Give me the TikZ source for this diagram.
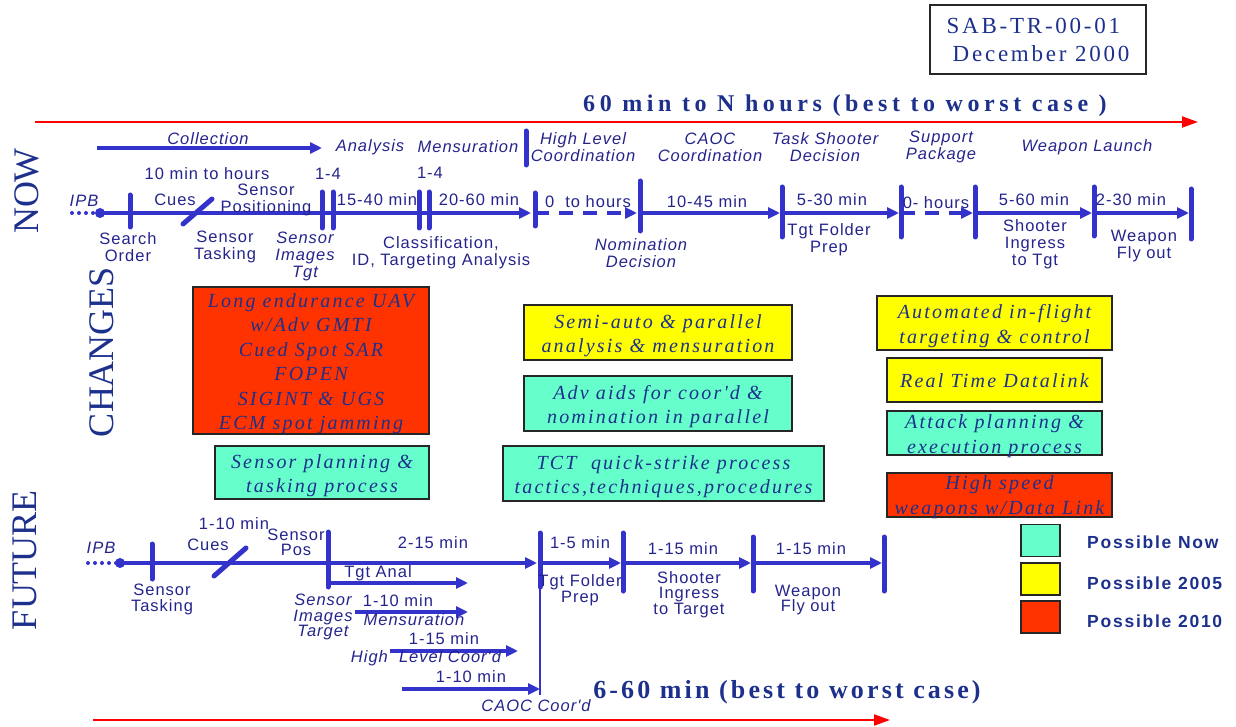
\documentclass[tikz,border=0pt]{standalone}
\usepackage{fontspec}
\setmainfont{Liberation Serif}
\usetikzlibrary{arrows.meta}
\newfontfamily\lblfont[LetterSpace=6]{Liberation Sans}
\newfontfamily\boxfont[LetterSpace=11]{Liberation Serif}
\newfontfamily\headfont[LetterSpace=19]{Liberation Serif}
\newfontfamily\reffont[LetterSpace=12]{Liberation Serif}
\newfontfamily\keyfont[LetterSpace=10]{Liberation Sans}
\definecolor{lineblue}{RGB}{51,51,204}
\definecolor{navy}{RGB}{28,48,140}
\definecolor{labblue}{RGB}{36,36,140}
\definecolor{nowgreen}{RGB}{102,255,204}
\definecolor{yel}{RGB}{255,255,0}
\definecolor{redorange}{RGB}{255,51,0}
\definecolor{timered}{RGB}{255,0,0}
\begin{document}
\begin{tikzpicture}[x=1pt,y=-1pt,
  lbl/.style={font={\lblfont\fontsize{16.5}{17}\selectfont}, text=labblue, align=center, inner sep=0pt},
  lbli/.style={font={\lblfont\fontsize{16.5}{17}\selectfont\itshape}, text=labblue, align=center, inner sep=0pt},
  flbl/.style={font={\lblfont\fontsize{16.5}{15.5}\selectfont}, text=labblue, align=center, inner sep=0pt},
  flbli/.style={font={\lblfont\fontsize{16.5}{15.5}\selectfont\itshape}, text=labblue, align=center, inner sep=0pt},
  tick/.style={draw=lineblue, line width=5pt, line cap=round},
  seg/.style={draw=lineblue, line width=4pt, -{Triangle[length=12pt,width=11pt]}},
  dseg/.style={seg, dash pattern=on 14pt off 10pt},
  slash/.style={draw=lineblue, line width=5pt, line cap=round},
  ipbdots/.style={draw=lineblue, line width=4pt, line cap=round, dash pattern=on 0pt off 7pt},
  timeaxis/.style={draw=timered, line width=2pt, -{Triangle[length=16pt,width=11pt]}},
  chgbox/.style={draw=black!85, line width=1.3pt, inner sep=0pt},
  chgtext/.style={inner sep=0pt, text=navy, align=center,
    font={\boxfont\fontsize{20}{24.5}\selectfont\itshape}},
  phase/.style={font={\fontsize{36}{36}\selectfont}, text=navy, rotate=90, inner sep=0pt},
  keybox/.style={draw=black!85, line width=1.3pt, minimum width=39pt, minimum height=32pt, inner sep=0pt},
  keytext/.style={font={\keyfont\bfseries\fontsize{17.5}{18}\selectfont}, text=navy, anchor=west, inner sep=0pt},
  headline/.style={font={\headfont\bfseries\fontsize{24}{25}\selectfont}, text=navy, inner sep=0pt}
]
\useasboundingbox (0,0) rectangle (1236,727);

% ---------- report reference ----------
\node[draw=black!85, line width=1.2pt, minimum width=216pt, minimum height=69pt, inner sep=0pt,
      align=left, text=navy, font={\reffont\fontsize{23}{28}\selectfont}] (ref) at (1038,39.5)
  {SAB-TR-00-01\\\hspace{6pt}December 2000};

% ---------- time axes ----------
\node[headline] (toptitle) at (845,106) {60 min to N hours (best to worst case )};
\coordinate (tas) at (35,122);
\coordinate (tae) at (1198,122);
\draw[timeaxis] (tas) -- (tae);

\node[headline, font={\reffont\bfseries\fontsize{26}{28}\selectfont}] (bottitle) at (787,692) {6-60 min (best to worst case)};
\coordinate (bas) at (93,720);
\coordinate (bae) at (890,720);
\draw[timeaxis] (bas) -- (bae);

% ---------- row titles ----------
\node[phase] (now) at (27,191) {NOW};
\node[phase] (changes) at (102,352) {CHANGES};
\node[phase] (future) at (25,560) {FUTURE};

% ---------- NOW: phase headings ----------
\coordinate (cols) at (97,148);
\coordinate (cole) at (322,148);
\draw[seg] (cols) -- (cole);
\node[lbli] (collection) at (208,139) {Collection};
\node[lbli] (analysis) at (370,147) {Analysis};
\node[lbli] (mensuration) at (468,147) {Mensuration};
\coordinate (hsa) at (526,131);
\coordinate (hsb) at (526,165);
\draw[tick] (hsa) -- (hsb);
\node[lbli] (hlc) at (583,147) {High Level\\Coordination};
\node[lbli] (caoc) at (710,147) {CAOC\\Coordination};
\node[lbli] (tsd) at (825,147) {Task Shooter\\Decision};
\node[lbli] (spk) at (941,147) {Support\\Package};
\node[lbli] (wl) at (1087,147) {Weapon Launch};

% ---------- NOW: timeline ----------
\coordinate (ipbs) at (72,213);
\coordinate (ipb) at (100,213);
\draw[ipbdots] (ipbs) -- (ipb);
\fill[lineblue] (ipb) circle (5pt);
\node[lbli] (ipbt) at (84,201) {IPB};

\coordinate (n535) at (535,213);
\coordinate (n640) at (640,213);
\coordinate (n782) at (782,213);
\coordinate (n901) at (901,213);
\coordinate (n975) at (975,213);
\coordinate (n1094) at (1094,213);
\coordinate (n1191) at (1191,213);

\draw[seg, shorten >=4pt] (ipb) -- (n535);
\draw[dseg, shorten >=3pt] (n535) -- (n640);
\draw[seg, shorten >=2pt] (n640) -- (n782);
\draw[seg, shorten >=2pt] (n782) -- (n901);
\draw[dseg, shorten >=2pt] (n901) -- (n975);
\draw[seg, shorten >=2pt] (n975) -- (n1094);
\draw[seg, shorten >=2pt] (n1094) -- (n1191);

\draw[tick] (130,195) -- (130,227);
\draw[slash] (183,224) -- (212,199);
\draw[tick] (322,192) -- (322,228);
\draw[tick] (333,192) -- (333,228);
\draw[tick] (419,192) -- (419,228);
\draw[tick] (429,192) -- (429,228);
\draw[tick] (535,193) -- (535,226);
\draw[tick] (640,181) -- (640,231);
\draw[tick] (782,187) -- (782,237);
\draw[tick] (901,187) -- (901,237);
\draw[tick] (975,187) -- (975,237);
\draw[tick] (1094,187) -- (1094,236);
\draw[tick] (1191,189) -- (1191,239);

% durations
\node[lbl] (d1) at (207,174) {10 min to hours};
\node[lbl] (cues) at (175,200) {Cues};
\node[lbl] (spos) at (266,200) {Sensor\\Positioning};
\node[lbl] (d14a) at (328,174) {1-4};
\node[lbl] (d14b) at (430,173) {1-4};
\node[lbl] (d2) at (377,200) {15-40 min};
\node[lbl] (d3) at (479,200) {20-60 min};
\node[lbl] (d4) at (588,202) {0\ \ to hours};
\node[lbl] (d5) at (707,202) {10-45 min};
\node[lbl] (d6) at (832,200) {5-30 min};
\node[lbl] (d7) at (936,203) {0- hours};
\node[lbl] (d8) at (1034,200) {5-60 min};
\node[lbl] (d9) at (1131,200) {2-30 min};

% events
\node[lbl] (so) at (128,247) {Search\\Order};
\node[lbl] (st) at (225,247) {Sensor\\Tasking};
\node[lbli] (sit) at (305,256) {Sensor\\Images\\Tgt};
\node[lbl] (cls) at (441,253) {Classification,\\ID, Targeting Analysis};
\node[lbli] (nom) at (641,253) {Nomination\\Decision};
\node[lbl] (tfp) at (829,240) {Tgt Folder\\Prep};
\node[lbl] (sit2) at (1035,244) {Shooter\\Ingress\\to Tgt};
\node[lbl] (wfo) at (1144,246) {Weapon\\Fly out};

% ---------- CHANGES ----------
\node[chgbox, fill=redorange, minimum width=236pt, minimum height=147pt] (uav) at (311,360.5) {};
\node[chgtext] (uavt) at ([yshift=-3pt]uav.center)
  {Long endurance UAV\\w/Adv GMTI\\Cued Spot SAR\\FOPEN\\SIGINT \& UGS\\ECM spot jamming};
\node[chgbox, fill=nowgreen, minimum width=214pt, minimum height=53pt] (spt) at (322,472.5) {};
\node[chgtext] (sptt) at ([yshift=-3pt]spt.center) {Sensor planning \&\\tasking process};
\node[chgbox, fill=yel, minimum width=268pt, minimum height=55pt] (semi) at (658,332.5) {};
\node[chgtext] (semit) at ([yshift=-3pt]semi.center) {Semi-auto \& parallel\\analysis \& mensuration};
\node[chgbox, fill=nowgreen, minimum width=268pt, minimum height=55pt] (adv) at (658,403.5) {};
\node[chgtext] (advt) at ([yshift=-3pt]adv.center) {Adv aids for coor'd \&\\nomination in parallel};
\node[chgbox, fill=nowgreen, minimum width=321pt, minimum height=55pt] (tct) at (663.5,473.5) {};
\node[chgtext] (tctt) at ([yshift=-3pt]tct.center) {TCT\ \ quick-strike process\\tactics,techniques,procedures};
\node[chgbox, fill=yel, minimum width=235pt, minimum height=54pt] (auto) at (994.5,323) {};
\node[chgtext] (autot) at ([yshift=-3pt]auto.center) {Automated in-flight\\targeting \& control};
\node[chgbox, fill=yel, minimum width=215pt, minimum height=44pt] (rtd) at (994.5,380) {};
\node[chgtext] (rtdt) at ([yshift=-1pt]rtd.center) {Real Time Datalink};
\node[chgbox, fill=nowgreen, minimum width=215pt, minimum height=44pt] (atk) at (994.5,433) {};
\node[chgtext] (atkt) at ([yshift=-3pt]atk.center) {Attack planning \&\\execution process};
\node[chgbox, fill=redorange, minimum width=225pt, minimum height=44pt] (hsw) at (999.5,495) {};
\node[chgtext] (hswt) at ([yshift=-2pt]hsw.center) {High speed\\weapons w/Data Link};

% ---------- key ----------
\node[keybox, fill=nowgreen] (k1) at (1040.5,540.5) {};
\node[keybox, fill=yel] (k2) at (1040.5,579) {};
\node[keybox, fill=redorange] (k3) at (1040.5,617) {};
\node[keytext] (k1t) at (1087,542) {Possible Now};
\node[keytext] (k2t) at (1087,583) {Possible 2005};
\node[keytext] (k3t) at (1087,621) {Possible 2010};

% ---------- FUTURE: timeline ----------
\coordinate (fipbs) at (88,563);
\coordinate (fipb) at (120,563);
\draw[ipbdots] (fipbs) -- (fipb);
\fill[lineblue] (fipb) circle (5pt);
\node[lbli] (fipbt) at (101,548) {IPB};

\coordinate (f540) at (540,563);
\coordinate (f623) at (623,563);
\coordinate (f753) at (753,563);
\coordinate (f884) at (884,563);

\draw[seg, shorten >=3pt] (fipb) -- (f540);
\draw[seg, shorten >=2pt] (f540) -- (f623);
\draw[seg, shorten >=2pt] (f623) -- (f753);
\draw[seg, shorten >=2pt] (f753) -- (f884);

% parallel tasks
\coordinate (ta1) at (328,583);  \coordinate (ta2) at (468,583);
\coordinate (me1) at (355,612);  \coordinate (me2) at (468,612);
\coordinate (hl1) at (390,651);  \coordinate (hl2) at (518,651);
\coordinate (co1) at (402,689);  \coordinate (co2) at (540,689);
\draw[seg] (ta1) -- (ta2);
\draw[seg] (me1) -- (me2);
\draw[seg] (hl1) -- (hl2);
\draw[seg] (co1) -- (co2);
\coordinate (vl1) at (540,580);
\coordinate (vl2) at (540,695);
\draw[draw=lineblue, line width=1.5pt] (vl1) -- (vl2);

\draw[tick] (152,544) -- (152,579);
\draw[slash] (214,576) -- (246,548);
\draw[tick] (328,532) -- (328,587);
\draw[tick] (540,533) -- (540,587);
\draw[tick] (623,533) -- (623,591);
\draw[tick] (753,537) -- (753,591);
\draw[tick] (884,537) -- (884,591);

\node[flbl] (fd1) at (234,524) {1-10 min};
\node[flbl] (fcues) at (208,545) {Cues};
\node[flbl] (fsp) at (296,542.5) {Sensor\\Pos};
\node[flbl] (fd2) at (433,543) {2-15 min};
\node[flbl] (fst) at (162,599.5) {Sensor\\Tasking};
\node[flbl] (fta) at (378,573) {Tgt Anal};
\node[flbli] (fsit) at (323,617) {Sensor\\Images\\Target};
\node[flbl] (fd3) at (398,601) {1-10 min};
\node[flbli] (fmen) at (414,620) {Mensuration};
\node[flbl] (fd4) at (444,639) {1-15 min};
\node[flbli] (fhl) at (426,658) {High\ \ Level Coor'd};
\node[flbl] (fd5) at (471,677) {1-10 min};
\node[flbli] (fcaoc) at (536,706) {CAOC Coor'd};
\node[flbl] (fd6) at (580,543) {1-5 min};
\node[flbl] (ftfp) at (580,590) {Tgt Folder\\Prep};
\node[flbl] (fd7) at (683,549) {1-15 min};
\node[flbl] (fsi) at (689,594.5) {Shooter\\Ingress\\to Target};
\node[flbl] (fd8) at (811,549) {1-15 min};
\node[flbl] (fwfo) at (808,600) {Weapon\\Fly out};
\end{tikzpicture}
\end{document}
